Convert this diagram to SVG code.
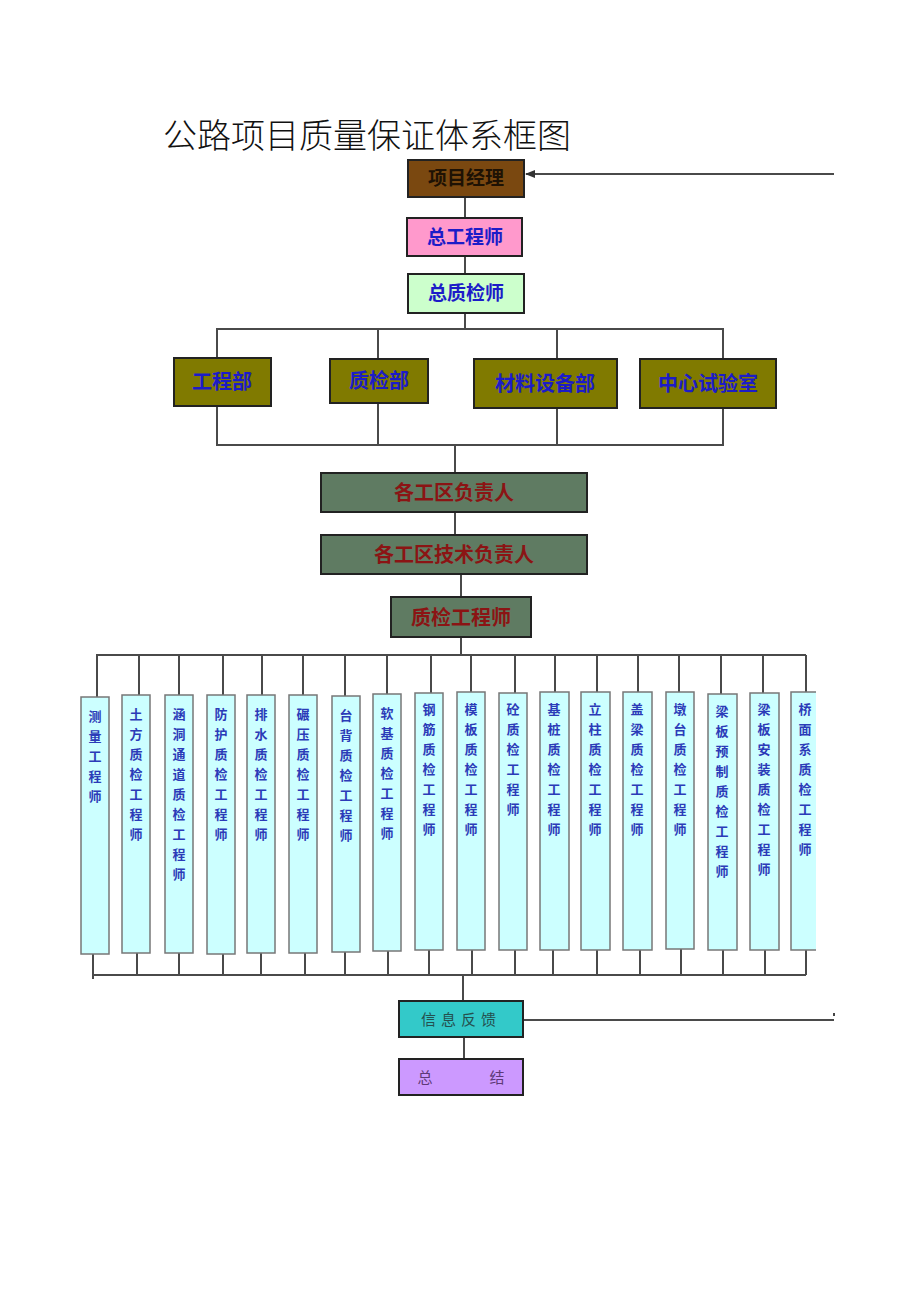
<svg xmlns="http://www.w3.org/2000/svg" width="920" height="1301" viewBox="0 0 920 1301">
<defs>
<style>
.ln{stroke:#4a4a4a;stroke-width:2;fill:none}
.bx{stroke:#222;stroke-width:2}
.cb{fill:#ccffff;stroke:#777;stroke-width:1.5}
.t{font-family:"Noto Sans CJK SC","Noto Sans CJK JP",sans-serif;text-anchor:middle}
.b{font-weight:bold}
.blue{fill:#1c1cc8}
.red{fill:#8b1414}
.ct{font-family:"Noto Sans CJK SC",sans-serif;font-size:13px;font-weight:bold;fill:#2b3bb8;text-anchor:middle}
</style>
<marker id="ah" markerWidth="10" markerHeight="8" refX="9" refY="4" orient="auto" markerUnits="userSpaceOnUse">
<path d="M0,0 L10,4 L0,8 Z" fill="#333"/>
</marker>
</defs>
<rect width="920" height="1301" fill="#fff"/>
<text x="163" y="148" font-family="Noto Sans CJK SC,sans-serif" font-size="34" font-weight="300" fill="#111">公路项目质量保证体系框图</text>

<g id="connectors">
<line class="ln" x1="834" y1="174" x2="526" y2="174" marker-end="url(#ah)"/>
<line class="ln" x1="465" y1="197" x2="465" y2="218"/>
<line class="ln" x1="465" y1="256" x2="465" y2="274"/>
<line class="ln" x1="465" y1="313" x2="465" y2="329"/>
<path class="ln" d="M217,358 V329 H723 V358 M378,329 V358 M557,329 V358"/>
<path class="ln" d="M217,406 V445 H723 V408 M378,403 V445 M557,408 V445 M455,445 V473"/>
<line class="ln" x1="455" y1="512" x2="455" y2="535"/>
<line class="ln" x1="461" y1="574" x2="461" y2="597"/>
<line class="ln" x1="461" y1="637" x2="461" y2="655"/>
<path class="ln" d="M96,655 H806 M97,655 V697 M139,655 V695 M179,655 V695 M223,655 V695 M262,655 V695 M303,655 V695 M345,655 V696 M387,655 V694 M431,655 V693 M471,655 V692 M515,655 V693 M555,655 V692 M597,655 V692 M638,655 V692 M679,655 V692 M721,655 V694 M763,655 V693 M806,655 V692"/>
<path class="ln" d="M93,975 H806 M93,954 V979 M137,953 V975 M179,953 V975 M223,954 V975 M261,953 V975 M305,953 V975 M345,952 V975 M388,951 V975 M429,950 V975 M472,950 V975 M515,950 V975 M553,950 V975 M597,950 V975 M640,950 V975 M681,949 V975 M723,950 V975 M765,950 V975 M806,950 V975"/>
<line class="ln" x1="463" y1="975" x2="463" y2="1001"/>
<line class="ln" x1="523" y1="1020" x2="834" y2="1020"/>
<line x1="834" y1="1013" x2="834" y2="1016" stroke="#444" stroke-width="2"/>
<line class="ln" x1="464" y1="1037" x2="464" y2="1059"/>
</g>

<g id="n-pm"><rect class="bx" x="408" y="160" width="116" height="37" fill="#7a4810"/><text class="t b" x="466" y="185" font-size="19" fill="#1e1204">项目经理</text></g>
<g id="n-ce"><rect class="bx" x="407" y="218" width="115" height="38" fill="#ff99cc"/><text class="t b blue" x="465" y="244" font-size="19">总工程师</text></g>
<g id="n-cq"><rect class="bx" x="408" y="274" width="116" height="39" fill="#ccffcc"/><text class="t b blue" x="466" y="300" font-size="19">总质检师</text></g>

<g id="n-gcb"><rect class="bx" x="174" y="358" width="97" height="48" fill="#807a00"/><text class="t b blue" x="222" y="389" font-size="20">工程部</text></g>
<g id="n-zjb"><rect class="bx" x="330" y="359" width="98" height="44" fill="#807a00"/><text class="t b blue" x="379" y="388" font-size="20">质检部</text></g>
<g id="n-clb"><rect class="bx" x="474" y="359" width="143" height="49" fill="#807a00"/><text class="t b blue" x="545" y="391" font-size="20">材料设备部</text></g>
<g id="n-syj"><rect class="bx" x="640" y="359" width="136" height="49" fill="#807a00"/><text class="t b blue" x="708" y="391" font-size="20">中心试验室</text></g>

<g id="n-gq"><rect class="bx" x="321" y="473" width="266" height="39" fill="#5f7b62"/><text class="t b red" x="454" y="500" font-size="20">各工区负责人</text></g>
<g id="n-js"><rect class="bx" x="321" y="535" width="266" height="39" fill="#5f7b62"/><text class="t b red" x="454" y="562" font-size="20">各工区技术负责人</text></g>
<g id="n-zg"><rect class="bx" x="391" y="597" width="140" height="40" fill="#5f7b62"/><text class="t b red" x="461" y="625" font-size="20">质检工程师</text></g>

<g id="n-c1"><rect class="cb" x="81" y="697" width="28" height="257"/><text class="ct"><tspan x="95" y="721">测</tspan><tspan x="95" dy="20">量</tspan><tspan x="95" dy="20">工</tspan><tspan x="95" dy="20">程</tspan><tspan x="95" dy="20">师</tspan></text></g>
<g id="n-c2"><rect class="cb" x="122" y="695" width="28" height="258"/><text class="ct"><tspan x="136" y="719">土</tspan><tspan x="136" dy="20">方</tspan><tspan x="136" dy="20">质</tspan><tspan x="136" dy="20">检</tspan><tspan x="136" dy="20">工</tspan><tspan x="136" dy="20">程</tspan><tspan x="136" dy="20">师</tspan></text></g>
<g id="n-c3"><rect class="cb" x="165" y="695" width="28" height="258"/><text class="ct"><tspan x="179" y="719">涵</tspan><tspan x="179" dy="20">洞</tspan><tspan x="179" dy="20">通</tspan><tspan x="179" dy="20">道</tspan><tspan x="179" dy="20">质</tspan><tspan x="179" dy="20">检</tspan><tspan x="179" dy="20">工</tspan><tspan x="179" dy="20">程</tspan><tspan x="179" dy="20">师</tspan></text></g>
<g id="n-c4"><rect class="cb" x="207" y="695" width="28" height="259"/><text class="ct"><tspan x="221" y="719">防</tspan><tspan x="221" dy="20">护</tspan><tspan x="221" dy="20">质</tspan><tspan x="221" dy="20">检</tspan><tspan x="221" dy="20">工</tspan><tspan x="221" dy="20">程</tspan><tspan x="221" dy="20">师</tspan></text></g>
<g id="n-c5"><rect class="cb" x="247" y="695" width="28" height="258"/><text class="ct"><tspan x="261" y="719">排</tspan><tspan x="261" dy="20">水</tspan><tspan x="261" dy="20">质</tspan><tspan x="261" dy="20">检</tspan><tspan x="261" dy="20">工</tspan><tspan x="261" dy="20">程</tspan><tspan x="261" dy="20">师</tspan></text></g>
<g id="n-c6"><rect class="cb" x="289" y="695" width="28" height="258"/><text class="ct"><tspan x="303" y="719">碾</tspan><tspan x="303" dy="20">压</tspan><tspan x="303" dy="20">质</tspan><tspan x="303" dy="20">检</tspan><tspan x="303" dy="20">工</tspan><tspan x="303" dy="20">程</tspan><tspan x="303" dy="20">师</tspan></text></g>
<g id="n-c7"><rect class="cb" x="332" y="696" width="28" height="256"/><text class="ct"><tspan x="346" y="720">台</tspan><tspan x="346" dy="20">背</tspan><tspan x="346" dy="20">质</tspan><tspan x="346" dy="20">检</tspan><tspan x="346" dy="20">工</tspan><tspan x="346" dy="20">程</tspan><tspan x="346" dy="20">师</tspan></text></g>
<g id="n-c8"><rect class="cb" x="373" y="694" width="28" height="257"/><text class="ct"><tspan x="387" y="718">软</tspan><tspan x="387" dy="20">基</tspan><tspan x="387" dy="20">质</tspan><tspan x="387" dy="20">检</tspan><tspan x="387" dy="20">工</tspan><tspan x="387" dy="20">程</tspan><tspan x="387" dy="20">师</tspan></text></g>
<g id="n-c9"><rect class="cb" x="415" y="693" width="28" height="257"/><text class="ct"><tspan x="429" y="714">钢</tspan><tspan x="429" dy="20">筋</tspan><tspan x="429" dy="20">质</tspan><tspan x="429" dy="20">检</tspan><tspan x="429" dy="20">工</tspan><tspan x="429" dy="20">程</tspan><tspan x="429" dy="20">师</tspan></text></g>
<g id="n-c10"><rect class="cb" x="457" y="692" width="28" height="258"/><text class="ct"><tspan x="471" y="714">模</tspan><tspan x="471" dy="20">板</tspan><tspan x="471" dy="20">质</tspan><tspan x="471" dy="20">检</tspan><tspan x="471" dy="20">工</tspan><tspan x="471" dy="20">程</tspan><tspan x="471" dy="20">师</tspan></text></g>
<g id="n-c11"><rect class="cb" x="499" y="693" width="28" height="257"/><text class="ct"><tspan x="513" y="714">砼</tspan><tspan x="513" dy="20">质</tspan><tspan x="513" dy="20">检</tspan><tspan x="513" dy="20">工</tspan><tspan x="513" dy="20">程</tspan><tspan x="513" dy="20">师</tspan></text></g>
<g id="n-c12"><rect class="cb" x="540" y="692" width="29" height="258"/><text class="ct"><tspan x="554" y="714">基</tspan><tspan x="554" dy="20">桩</tspan><tspan x="554" dy="20">质</tspan><tspan x="554" dy="20">检</tspan><tspan x="554" dy="20">工</tspan><tspan x="554" dy="20">程</tspan><tspan x="554" dy="20">师</tspan></text></g>
<g id="n-c13"><rect class="cb" x="581" y="692" width="29" height="258"/><text class="ct"><tspan x="595" y="714">立</tspan><tspan x="595" dy="20">柱</tspan><tspan x="595" dy="20">质</tspan><tspan x="595" dy="20">检</tspan><tspan x="595" dy="20">工</tspan><tspan x="595" dy="20">程</tspan><tspan x="595" dy="20">师</tspan></text></g>
<g id="n-c14"><rect class="cb" x="623" y="692" width="29" height="258"/><text class="ct"><tspan x="637" y="714">盖</tspan><tspan x="637" dy="20">梁</tspan><tspan x="637" dy="20">质</tspan><tspan x="637" dy="20">检</tspan><tspan x="637" dy="20">工</tspan><tspan x="637" dy="20">程</tspan><tspan x="637" dy="20">师</tspan></text></g>
<g id="n-c15"><rect class="cb" x="666" y="692" width="28" height="257"/><text class="ct"><tspan x="680" y="714">墩</tspan><tspan x="680" dy="20">台</tspan><tspan x="680" dy="20">质</tspan><tspan x="680" dy="20">检</tspan><tspan x="680" dy="20">工</tspan><tspan x="680" dy="20">程</tspan><tspan x="680" dy="20">师</tspan></text></g>
<g id="n-c16"><rect class="cb" x="708" y="694" width="29" height="256"/><text class="ct"><tspan x="722" y="716">梁</tspan><tspan x="722" dy="20">板</tspan><tspan x="722" dy="20">预</tspan><tspan x="722" dy="20">制</tspan><tspan x="722" dy="20">质</tspan><tspan x="722" dy="20">检</tspan><tspan x="722" dy="20">工</tspan><tspan x="722" dy="20">程</tspan><tspan x="722" dy="20">师</tspan></text></g>
<g id="n-c17"><rect class="cb" x="750" y="693" width="29" height="257"/><text class="ct"><tspan x="764" y="714">梁</tspan><tspan x="764" dy="20">板</tspan><tspan x="764" dy="20">安</tspan><tspan x="764" dy="20">装</tspan><tspan x="764" dy="20">质</tspan><tspan x="764" dy="20">检</tspan><tspan x="764" dy="20">工</tspan><tspan x="764" dy="20">程</tspan><tspan x="764" dy="20">师</tspan></text></g>
<g id="n-c18"><rect x="791" y="692" width="25" height="258" fill="#ccffff"/><path d="M816,692 H791 V950 H816" fill="none" stroke="#777" stroke-width="1.5"/><text class="ct"><tspan x="805" y="714">桥</tspan><tspan x="805" dy="20">面</tspan><tspan x="805" dy="20">系</tspan><tspan x="805" dy="20">质</tspan><tspan x="805" dy="20">检</tspan><tspan x="805" dy="20">工</tspan><tspan x="805" dy="20">程</tspan><tspan x="805" dy="20">师</tspan></text></g>

<g id="n-fk"><rect class="bx" x="399" y="1001" width="124" height="36" fill="#33c9c9"/><text class="t" x="461" y="1025" font-size="15" fill="#25504f" letter-spacing="5">信息反馈</text></g>
<g id="n-zj"><rect class="bx" x="399" y="1059" width="124" height="36" fill="#cc99ff"/><text class="t" x="425" y="1083" font-size="15" fill="#5e3a78">总</text><text class="t" x="497" y="1083" font-size="15" fill="#5e3a78">结</text></g>
</svg>
